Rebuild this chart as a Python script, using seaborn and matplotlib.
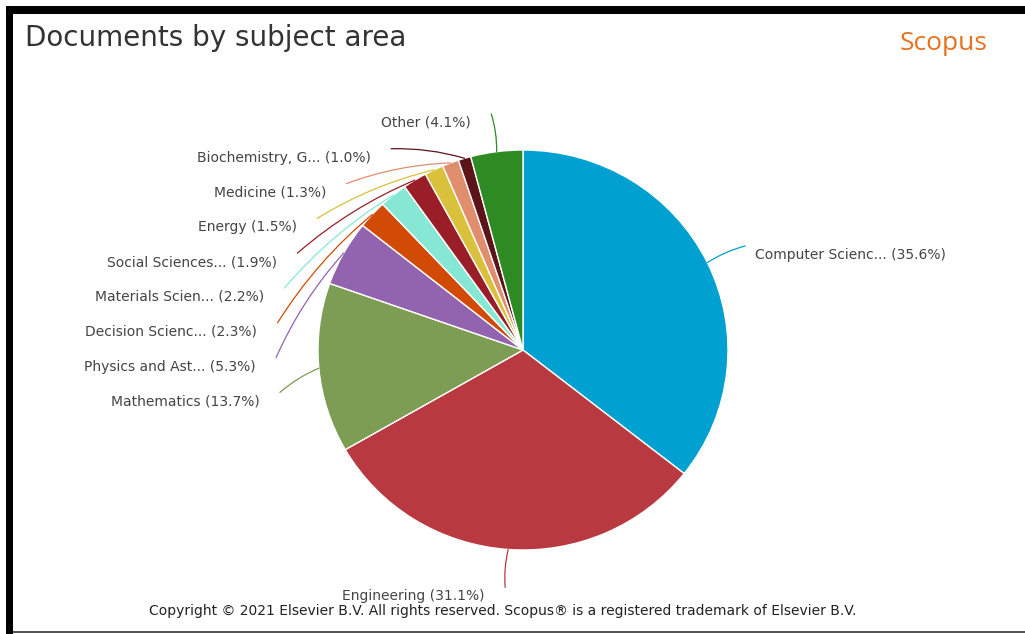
import numpy as np
import matplotlib
matplotlib.use("Agg")
import matplotlib.pyplot as plt
from matplotlib.patches import Rectangle
import seaborn as sns

# Share of documents per subject area (percent), in drawing order
subjects = [
    "Computer Scienc...", "Engineering", "Mathematics", "Physics and Ast...",
    "Decision Scienc...", "Materials Scien...", "Social Sciences...", "Energy",
    "Medicine", "Biochemistry, G...", "Other",
]
shares = [35.6, 31.1, 13.7, 5.3, 2.3, 2.2, 1.9, 1.5, 1.3, 1.0, 4.1]
slice_colors = [
    "#00a0d0", "#b8393f", "#7d9c54", "#9263ae", "#d14a06", "#86e8d4",
    "#991e28", "#d9c13b", "#e08e6e", "#5b1519", "#2e8a23",
]

title_text = "Documents by subject area"
brand_text = "Scopus"
footer_text = ("Copyright \u00a9 2021 Elsevier B.V. All rights reserved. "
               "Scopus\u00ae is a registered trademark of Elsevier B.V.")

sns.set_theme(style="white")
plt.rcParams["font.family"] = ["DejaVu Sans"]

W, H, DPI = 1025, 634, 100
fig = plt.figure(figsize=(W / DPI, H / DPI), dpi=DPI, facecolor="white")

# Axes spanning the figure; one data unit is the pie radius
cx, cy = 523, 350
RX_PX, RY_PX = 205, 200
ax = fig.add_axes([0, 0, 1, 1])
palette = sns.color_palette(slice_colors)
ax.pie(shares, colors=palette, startangle=90, counterclock=False,
       radius=1.0, wedgeprops=dict(edgecolor="white", linewidth=1.0))
ax.set_xlim(-cx / RX_PX, (W - cx) / RX_PX)
ax.set_ylim(-(H - cy) / RY_PX, cy / RY_PX)
ax.set_aspect("auto")
ax.axis("off")

# Label layout: anchors on an ellipse around the pie, pushed apart vertically
frac = np.array(shares) / np.sum(shares)
mid = 2 * np.pi * (np.cumsum(frac) - frac / 2)   # clockwise from the top
sx, sy = np.sin(mid), np.cos(mid)
Rx, Ry = 1.205, 1.19
step = 0.174
natural_y = Ry * sy
label_y = natural_y.copy()
for side in (-1, 1):
    idx = [i for i in range(len(shares)) if np.sign(sx[i]) == side]
    idx.sort(key=lambda i: -natural_y[i])
    prev = None
    for i in idx:
        if prev is not None:
            label_y[i] = min(natural_y[i], prev - step)
        prev = label_y[i]

for i, (name, val) in enumerate(zip(subjects, shares)):
    side = -1 if sx[i] < 0 else 1
    ye = label_y[i]
    xe = side * Rx * np.sqrt(max(0.0, 1 - (ye / Ry) ** 2))
    start = (sx[i], sy[i])
    ax.annotate("", xy=(xe, ye), xytext=start,
                arrowprops=dict(arrowstyle="-", color=slice_colors[i], lw=0.9,
                                shrinkA=0, shrinkB=0,
                                connectionstyle=f"arc3,rad={0.08 * -side}"))
    pad = 0.1 if side < 0 else 0.05
    ax.text(xe + side * pad, ye - 0.045, f"{name} ({val:.1f}%)",
            ha="right" if side < 0 else "left", va="center",
            fontsize=10, color="#444444")

# Header and footer text
fig.text(25 / W, 1 - 38 / H, title_text, fontsize=20, color="#333333",
         ha="left", va="center")
fig.text(944 / W, 1 - 43 / H, brand_text, fontsize=19, color="#e8711d",
         ha="center", va="center", family=["Open Sans", "DejaVu Sans"])
fig.text(503 / W, 1 - 611 / H, footer_text, fontsize=10, color="#222222",
         ha="center", va="center")

# Frame around the card
fig.add_artist(Rectangle((6 / W, 1 - 14 / H), 1 - 6 / W, 8 / H,
                         transform=fig.transFigure, color="black", lw=0))
fig.add_artist(Rectangle((6 / W, 0), 7 / W, 1 - 6 / H,
                         transform=fig.transFigure, color="black", lw=0))
fig.add_artist(Rectangle((13 / W, 1 / H), 1 - 13 / W, 2 / H,
                         transform=fig.transFigure, color="#555555", lw=0))

fig.savefig("out.png", dpi=DPI, facecolor="white")
